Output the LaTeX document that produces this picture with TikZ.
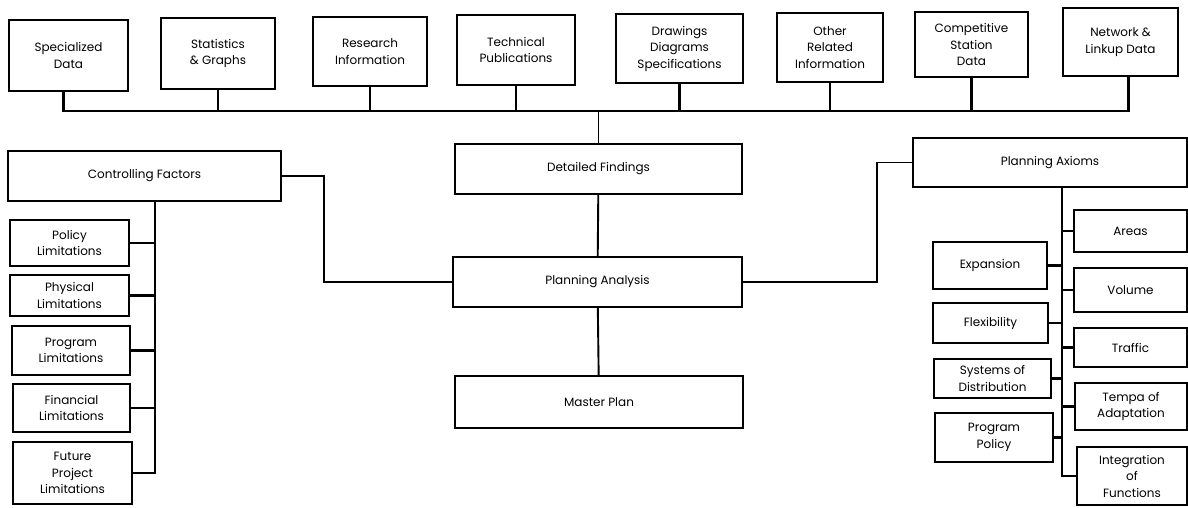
\documentclass[tikz,border=0pt]{standalone}
\usepackage{fontspec}
\setmainfont{Poppins}
\usetikzlibrary{calc}

% box from its corner coordinates: name, x1, y1, x2, y2, text
\newcommand\boxat[6]{%
  \node[bx, minimum width={(#4-#2)*1pt}, minimum height={(#5-#3)*1pt}]
    (#1) at ({(#2+#4)/2},{(#3+#5)/2}) {#6};}

\begin{document}
\begin{tikzpicture}[x=1pt, y=-1pt,
  bx/.style={draw, line width=2.4pt, inner sep=0pt, align=center,
    font=\fontsize{12}{16.5}\selectfont},
  link/.style={line width=2.2pt},
  thin link/.style={line width=1.9pt}]
\useasboundingbox (0,0) rectangle (1188,507);

% sources along the top
\boxat{t1}{9}{20}{128}{91}{Specialized\\Data}
\boxat{t2}{161}{18}{275}{89}{Statistics\\\& Graphs}
\boxat{t3}{313}{17}{427}{86}{Research\\Information}
\boxat{t4}{457}{15}{575}{85}{Technical\\Publications}
\boxat{t5}{616}{14}{743}{83}{Drawings\\Diagrams\\Specifications}
\boxat{t6}{777}{13}{883}{82}{Other\\Related\\Information}
\boxat{t7}{915}{12}{1028}{77}{Competitive\\Station\\Data}
\boxat{t8}{1063}{8}{1178}{76}{Network \&\\Linkup Data}

% central chain
\boxat{df}{455}{144}{742}{194}{Detailed Findings}
\boxat{pa}{453}{257}{742}{307}{Planning Analysis}
\boxat{mp}{455}{376}{743}{428}{Master Plan}

% controlling factors
\boxat{cf}{8}{151}{281}{201}{Controlling Factors}
\boxat{l1}{10}{220}{129}{266}{Policy\\Limitations}
\boxat{l2}{10}{275}{129}{316}{Physical\\Limitations}
\boxat{l3}{12}{326}{130}{375}{Program\\Limitations}
\boxat{l4}{13}{384}{130}{432}{Financial\\Limitations}
\boxat{l5}{13}{442}{132}{504}{Future\\Project\\Limitations}

% planning axioms
\boxat{ax}{913}{138}{1187}{187}{Planning Axioms}
\boxat{a1}{1074}{210}{1187}{252}{Areas}
\boxat{a2}{1074}{268}{1187}{312}{Volume}
\boxat{a3}{1074}{328}{1187}{367}{Traffic}
\boxat{a4}{1075}{383}{1187}{430}{Tempa of\\Adaptation}
\boxat{a5}{1077}{447}{1187}{505}{Integration\\of\\Functions}
\boxat{b1}{933}{242}{1047}{289}{Expansion}
\boxat{b2}{933}{303}{1048}{343}{Flexibility}
\boxat{b3}{934}{359}{1051}{398}{Systems of\\Distribution}
\boxat{b4}{935}{413}{1053}{462}{Program\\Policy}

% routing columns
\coordinate (bus) at (0,111);
\coordinate (lk) at (324,0);
\coordinate (rk) at (877,0);
\coordinate (lt) at (155,0);
\coordinate (rt) at (1062,0);

% collecting bus under the sources
\draw[link] ([xshift=-5pt]t1.south) -- ([xshift=-5pt]t1.south |- bus)
  -- ([xshift=8pt]t8.south |- bus) -- ([xshift=8pt]t8.south);
\foreach \n in {t2,t3,t4,t5,t6,t7}
  \draw[link] (\n.south) -- (\n.south |- bus);
\draw[thin link] (df.north |- bus) -- (df.north);
\draw[thin link] (df) -- (pa);
\draw[thin link] (pa) -- (mp);

% side branches into the analysis
\draw[thin link] (cf.east) -- (cf.east -| lk) -- (pa.west -| lk) -- (pa.west);
\draw[thin link] (pa.east) -- (pa.east -| rk) -- (ax.west -| rk) -- (ax.west);

% limitation trunk
\draw[link] (cf.south -| lt) -- (l5.east -| lt) -- (l5.east);
\foreach \n in {l1,l2,l3,l4}
  \draw[link] (\n.east) -- (\n.east -| lt);

% axiom trunk
\draw[link] (ax.south -| rt) -- (a5.west -| rt) -- (a5.west);
\foreach \n in {a1,a2,a3,a4}
  \draw[link] (\n.west) -- (\n.west -| rt);
\foreach \n in {b1,b2,b3,b4}
  \draw[link] (\n.east) -- (\n.east -| rt);
\end{tikzpicture}
\end{document}
